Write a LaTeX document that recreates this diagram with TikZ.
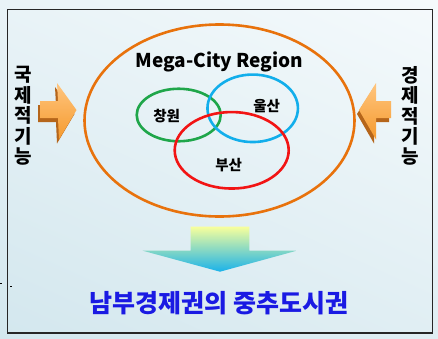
\documentclass[tikz,border=0pt]{standalone}
\usepackage{fontspec}
\usepackage{tikz}
\usetikzlibrary{
  shapes.geometric,
  shadings,
  positioning
}
\newfontfamily\krfont{Noto Sans CJK KR}
\definecolor{RegionOrange}{HTML}{E8720C}
\definecolor{CwGreen}{HTML}{1FA64A}
\definecolor{UsBlue}{HTML}{12AEEB}
\definecolor{BsRed}{HTML}{F21414}
\definecolor{ArwLight}{HTML}{FFC57E}
\definecolor{ArwMid}{HTML}{F59A2E}
\definecolor{ArwDark}{HTML}{B5651A}
\definecolor{HubBlue}{HTML}{1A1AE3}
\definecolor{FlowTop}{HTML}{F7FF9C}
\definecolor{FlowMid}{HTML}{A6F2CC}
\definecolor{FlowBot}{HTML}{1AB2EA}
\definecolor{BgTL}{HTML}{E9F3F7}
\definecolor{BgTR}{HTML}{F5FAFC}
\definecolor{BgBL}{HTML}{D3E7EE}
\definecolor{BgBR}{HTML}{E0EEF3}
\tikzset{
  % Outline-only city ring
  ring/.style={
    ellipse, draw=#1, line width=2.6pt,
    inner sep=0pt, outer sep=0pt
  },
  % City name inside the rings
  city/.style={font=\krfont\bfseries\fontsize{14.5}{16}\selectfont, text=black},
  % Vertical side caption
  side/.style={
    align=center, inner sep=0pt,
    font=\krfont\bfseries\fontsize{19}{20.4}\selectfont
  },
  % Orange 3D block arrow: front face and its dark extrusion
  arwface/.style={top color=ArwLight, bottom color=ArwMid, draw=none},
  arwback/.style={fill=ArwDark, draw=none}
}

\begin{document}
\begin{tikzpicture}[x=1pt, y=-1pt]

  % Page and frame
  \shade[upper left=BgTL, upper right=BgTR, lower left=BgBL, lower right=BgBR]
    (0,0) rectangle (438,338);
  \useasboundingbox (0,0) rectangle (438,338);
  \draw[black!85, line width=1.3pt] (7.5,9.5) rectangle (432.5,333);
  \fill[black] (0,282.5) rectangle (1.8,284.3);
  \fill[black] (9.8,285.6) rectangle (11.6,287.4);

  % Mega-city region and its three cities
  \node[ring=RegionOrange, minimum width=270pt, minimum height=192pt] (mcr) at (219.5,120.5) {};
  \node[font=\krfont\bfseries\fontsize{19}{20}\selectfont] (title) at (219.5,61.5) {Mega-City Region};
  \node[ring=CwGreen, minimum width=84pt,  minimum height=52.5pt] (cw) at (178.7,115) {};
  \node[ring=UsBlue,  minimum width=90.5pt, minimum height=67.5pt] (us) at (252.7,108.3) {};
  \node[ring=BsRed,   minimum width=114pt, minimum height=76.5pt] (bs) at (231.7,150.3) {};
  \node[city] (cwlbl) at (166.7,116.5) {창원};
  \node[city] (uslbl) at (266.7,106)   {울산};
  \node[city] (bslbl) at (228.7,165.5) {부산};

  % Side functions
  \node[side] (intl) at (23.3,116) {국\\제\\적\\기\\능};
  \node[side] (econ) at (410.7,116) {경\\제\\적\\기\\능};

  % Left arrow (points right)
  \fill[arwback] (38,105)--(56,105)--(55,87)--(74.5,114)--(57,143.5)--(56,122)--(38,122)--cycle;
  \shade[arwface] (40,101)--(58,101)--(57,83)--(76.5,110)--(59,139.5)--(58,118)--(40,118)--cycle;
  % Right arrow (points left)
  \fill[arwback] (389,105)--(374,105)--(374,87)--(357,114)--(374,143.5)--(374,122)--(389,122)--cycle;
  \shade[arwface] (391,101)--(376,101)--(376,83)--(359,110)--(376,139.5)--(376,118)--(391,118)--cycle;

  % Result arrow and caption
  \shade[top color=FlowTop, middle color=FlowMid, bottom color=FlowBot]
    (190.7,226.7)--(249.3,226.7)--(249.3,250.7)--(296.7,250.7)--(220,271.7)
    --(142.7,250.7)--(190.7,250.7)--cycle;
  \node[font=\krfont\bfseries\fontsize{25}{26}\selectfont, text=HubBlue] (hub) at (219.3,303.5)
    {남부경제권의 중추도시권};

\end{tikzpicture}
\end{document}
